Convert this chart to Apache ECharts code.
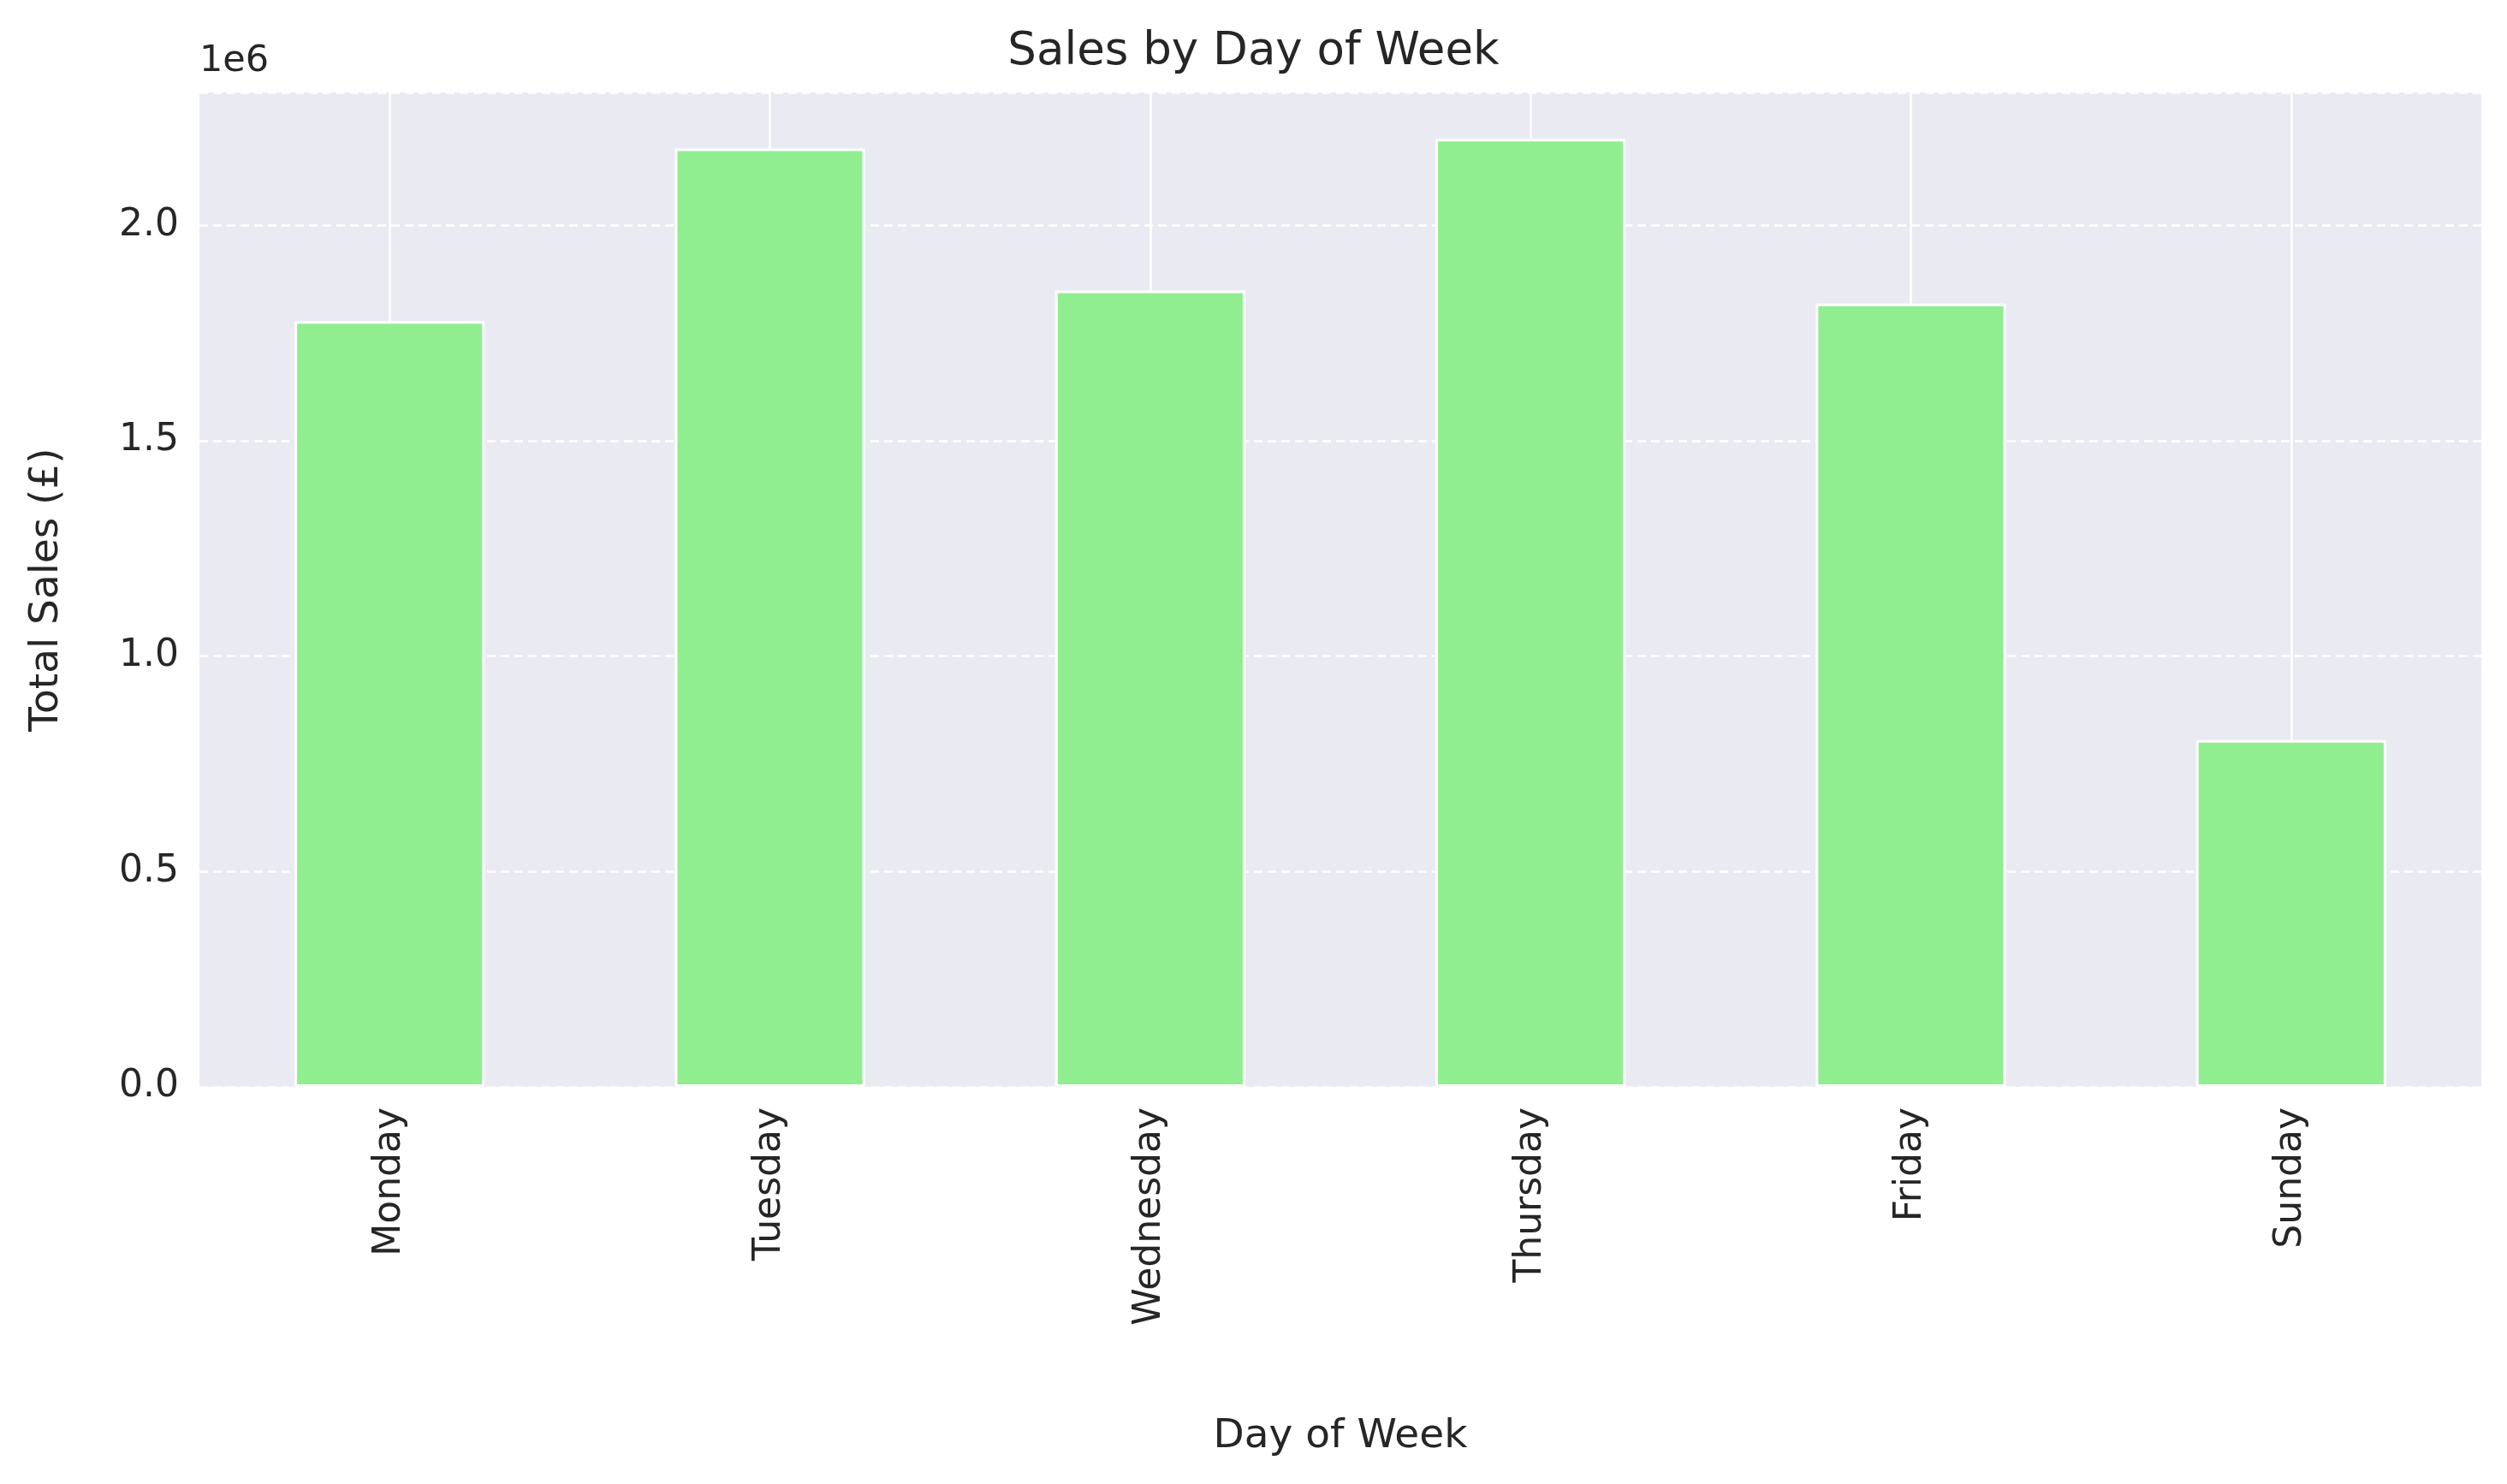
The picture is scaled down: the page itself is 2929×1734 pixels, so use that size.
<!DOCTYPE html>
<html>
<head>
<meta charset="utf-8">
<script src="https://cdn.jsdelivr.net/npm/echarts@6/dist/echarts.min.js"></script>
<style>html,body{margin:0;padding:0;background:#fff}#chart{width:2929px;height:1734px}</style>
</head>
<body>
<div id="chart"></div>
<script>
var days = ['Monday', 'Tuesday', 'Wednesday', 'Thursday', 'Friday', 'Sunday'];
var sales = [1777000, 2178000, 1848000, 2200000, 1818000, 805000];
var yTicks = [0, 500000, 1000000, 1500000, 2000000];

var FONT = 'DejaVu Sans';
var TXT = '#262626';

var myChart = echarts.init(document.getElementById('chart'));
var option = {
	textStyle: {fontFamily: FONT},
	title: {
		text: 'Sales by Day of Week',
		left: 'center', top: 30,
		textStyle: {fontFamily: FONT, fontSize: 53, fontWeight: 'normal', color: TXT}
	},
	graphic: [{
		type: 'text', left: 233, top: 50,
		style: {text: '1e6', font: '43px "DejaVu Sans"', fill: TXT}
	}],
	grid: {left: 233, right: 30, top: 108, bottom: 464, show: true, backgroundColor: '#EAEAF2', borderWidth: 0},
	xAxis: {
		type: 'category',
		data: days,
		name: 'Day of Week',
		nameLocation: 'middle',
		nameGap: 385,
		nameTextStyle: {fontSize: 47, color: TXT},
		axisLine: {show: false},
		axisTick: {show: false},
		axisLabel: {rotate: 90, fontSize: 44, color: TXT, margin: 24},
		splitLine: {show: false}
	},
	yAxis: {
		type: 'value',
		min: 0, max: 2308000, interval: 500000,
		name: 'Total Sales (£)',
		nameLocation: 'middle',
		nameGap: 155,
		nameTextStyle: {fontSize: 47, color: TXT},
		axisLine: {show: false},
		axisTick: {show: false},
		axisLabel: {
			fontSize: 44, color: TXT, margin: 24,
			formatter: function (v) { return yTicks.indexOf(v) >= 0 ? (v / 1e6).toFixed(1) : ''; }
		},
		splitLine: {lineStyle: {color: '#ffffff', width: 2.5, type: [10, 6]}}
	},
	series: [{
		type: 'bar',
		data: sales,
		barWidth: '50%',
		z: 3,
		itemStyle: {color: '#90EE90', borderColor: '#ffffff', borderWidth: 3},
		markLine: {
			silent: true, symbol: 'none', z: 1,
			label: {show: false},
			lineStyle: {color: '#ffffff', width: 2.5, type: 'solid'},
			data: days.map(function (d) { return {xAxis: d}; })
		}
	}]
};
myChart.setOption(option);
window.addEventListener("resize", function () {
	myChart.resize();
});
</script>
</body>
</html>
